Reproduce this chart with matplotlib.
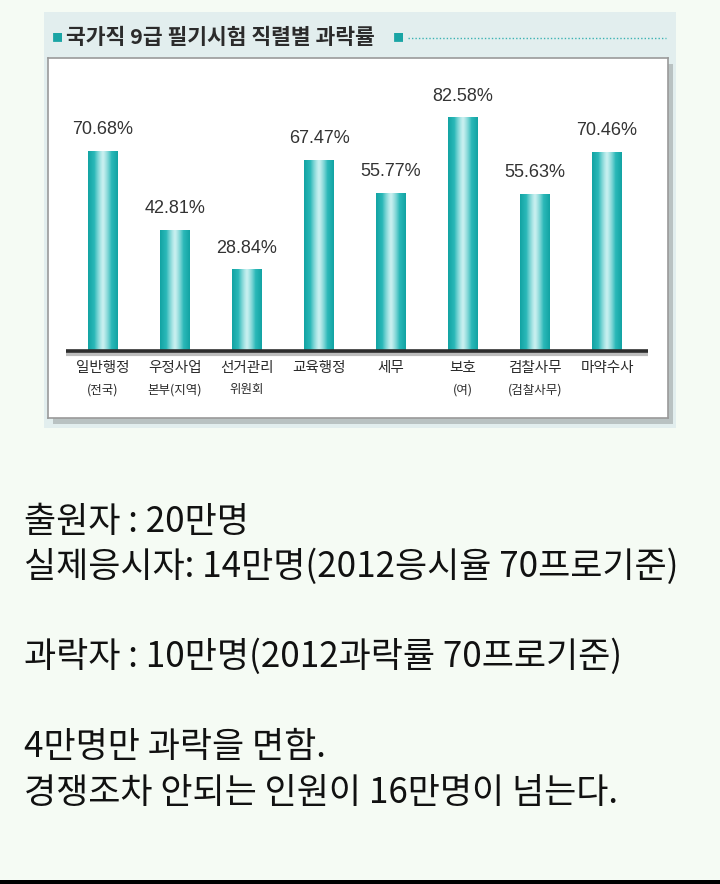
import numpy as np
import matplotlib
matplotlib.use("Agg")
import matplotlib.pyplot as plt
from matplotlib.patches import Rectangle

plt.rcParams['font.family'] = ['Noto Sans CJK KR', 'DejaVu Sans']

# data
categories = ["일반행정\n(전국)", "우정사업\n본부(지역)", "선거관리\n위원회", "교육행정",
              "세무", "보호\n(여)", "검찰사무\n(검찰사무)", "마약수사"]
rates = [70.68, 42.81, 28.84, 67.47, 55.77, 82.58, 55.63, 70.46]
title = "국가직 9급 필기시험 직렬별 과락률"
notes = [
    "출원자 : 20만명",
    "실제응시자: 14만명(2012응시율 70프로기준)",
    "",
    "과락자 : 10만명(2012과락률 70프로기준)",
    "",
    "4만명만 과락을 면함.",
    "경쟁조차 안되는 인원이 16만명이 넘는다.",
]

W, H = 720, 884
fig = plt.figure(figsize=(W / 100, H / 100), dpi=100)
fig.patch.set_facecolor('#f5fbf4')

def fx(px):
    return px / W

def fy(py):
    return 1 - py / H

# outer panel
fig.patches.append(Rectangle((fx(44), fy(428)), fx(676) - fx(44), fy(12) - fy(428),
                             transform=fig.transFigure, facecolor='#e2eeee',
                             edgecolor='none', zorder=0))
# inner box shadow
fig.patches.append(Rectangle((fx(53), fy(424)), fx(673) - fx(53), fy(64) - fy(424),
                             transform=fig.transFigure, facecolor='#b9c2c2',
                             edgecolor='none', zorder=0))

# title row
fig.text(fx(57), fy(38), "■", color='#1aa5a5', fontsize=8, va='center', ha='center')
fig.text(fx(66), fy(38), title, color='#2b2b2b', fontsize=15.5, va='center', ha='left',
         fontweight='bold')
fig.text(fx(398), fy(38), "■", color='#1aa5a5', fontsize=8, va='center', ha='center')
fig.add_artist(plt.Line2D([fx(408), fx(666)], [fy(38), fy(38)], transform=fig.transFigure,
                          color='#3bb3b3', lw=1, ls=(0, (1, 1.5))))

# chart axes = inner white box
ax = fig.add_axes([fx(48), fy(418), fx(668) - fx(48), fy(58) - fy(418)])
ax.set_zorder(2)
ax.set_facecolor('white')
for s in ax.spines.values():
    s.set_color('#9a9a9a')
    s.set_linewidth(1.2)
ax.set_xticks([])
ax.set_yticks([])

x = np.arange(len(rates))
step_px = 72.0
ax.set_xlim(-(103 - 48) / step_px, (668 - 103) / step_px)
ppu = 2.83
ax.set_ylim(-(418 - 351) / ppu, (351 - 58) / ppu)

bw = 30 / step_px
bars = ax.bar(x, rates, width=bw, color='#1fb0b0', edgecolor='none', zorder=2)

# horizontal gradient for each bar (dark edges, light middle)
t = np.linspace(-1, 1, 64)
g = 1 - np.abs(t) ** 1.3
grad = g[np.newaxis, :]
cmap = matplotlib.colors.LinearSegmentedColormap.from_list('tl', ['#12a3a3', '#2bb8b8', '#c8f0f0'])
for b in bars:
    x0, w, h = b.get_x(), b.get_width(), b.get_height()
    im = ax.imshow(grad, extent=(x0, x0 + w, 0, h), aspect='auto', cmap=cmap,
                   vmin=0, vmax=1, zorder=3)
    im.set_clip_path(b)

# baseline with shadow
ax.plot([-0.51, 7.57], [-0.9, -0.9], color='#bdbdbd', lw=3, zorder=3, solid_capstyle='butt')
ax.plot([-0.51, 7.57], [0, 0], color='#2d2d2d', lw=2.6, zorder=4, solid_capstyle='butt')

for xi, r in zip(x, rates):
    ax.text(xi, r + 4.5, f"{r:.2f}%", ha='center', va='bottom',
            fontsize=13, color='#333333', family=['Liberation Sans'])

for xi, c in zip(x, categories):
    lines = c.split("\n")
    ax.text(xi, -(368 - 351) / ppu, lines[0], ha='center', va='center',
            fontsize=10.5, color='#2b2b2b')
    if len(lines) > 1:
        ax.text(xi, -(390 - 351) / ppu, lines[1], ha='center', va='center',
                fontsize=9, color='#2b2b2b')

# notes below the chart
ys = [522, 567, 612, 657, 702, 747, 793]
for yy, line in zip(ys, notes):
    if line:
        fig.text(fx(24), fy(yy), line, fontsize=25.2, color='#111111', va='center', ha='left')

# black strip at the bottom
fig.patches.append(Rectangle((0, 0), 1, fy(880), transform=fig.transFigure,
                             facecolor='black', edgecolor='none'))

fig.savefig("out.png", dpi=100, facecolor=fig.get_facecolor())
